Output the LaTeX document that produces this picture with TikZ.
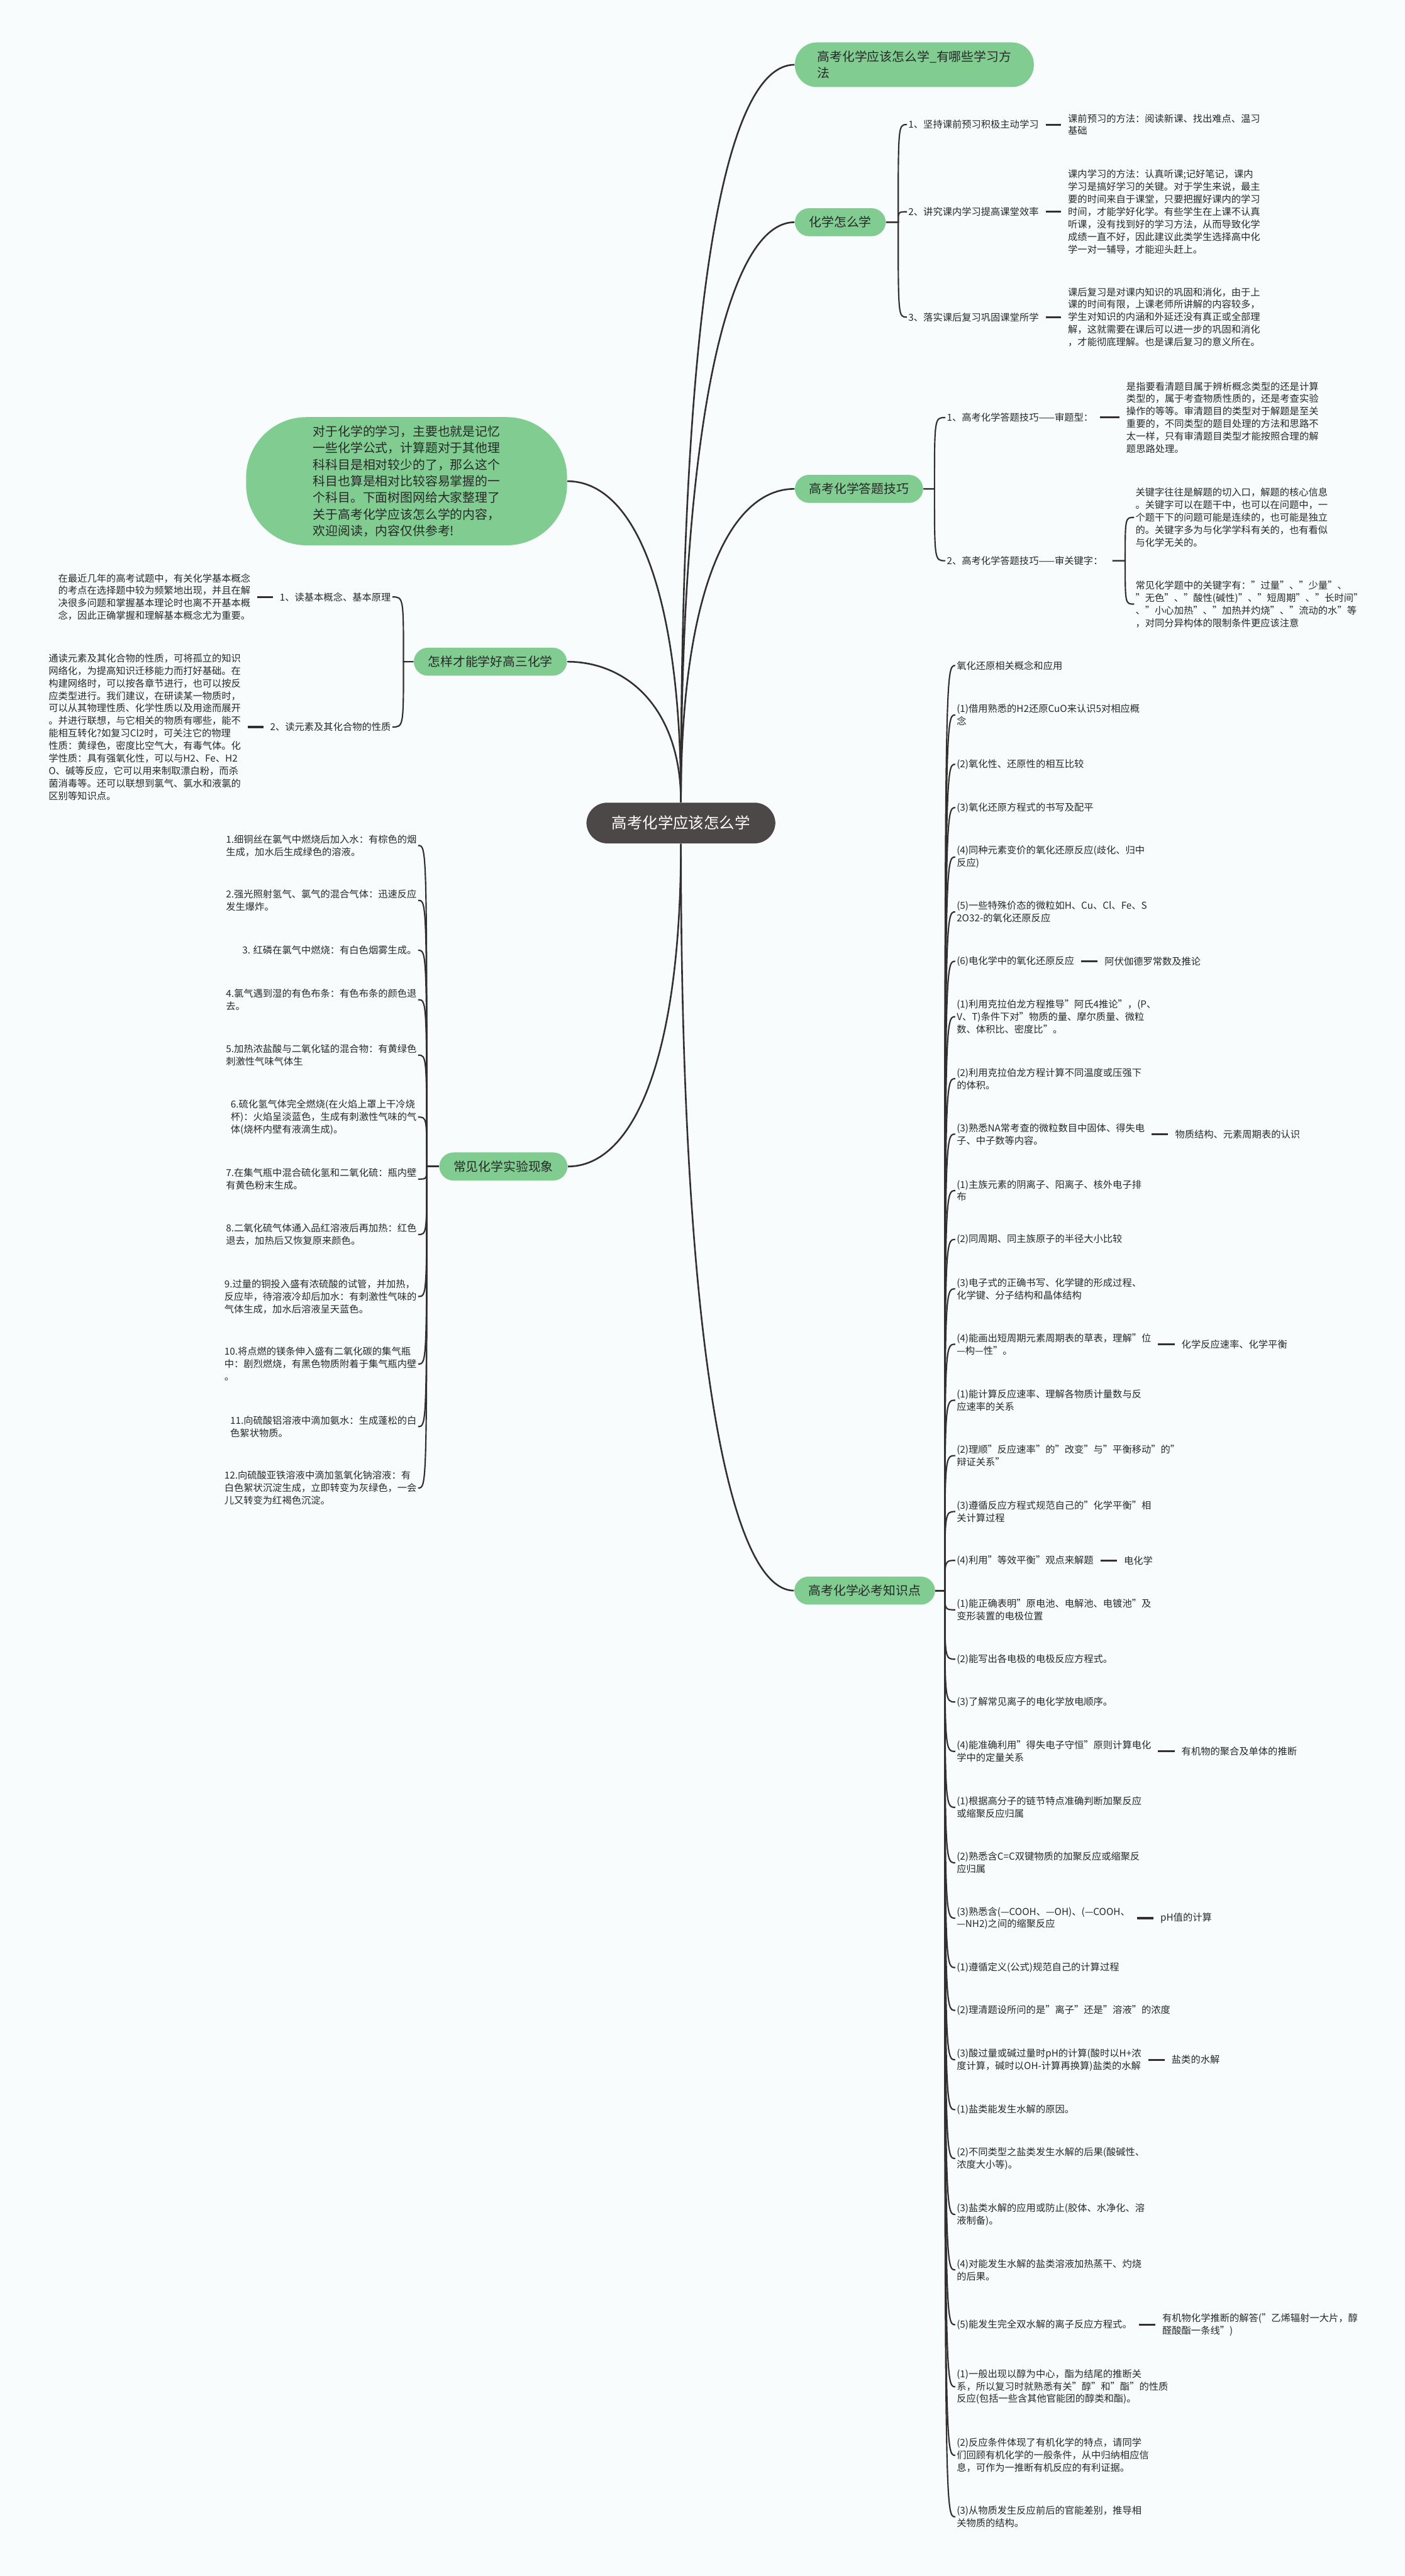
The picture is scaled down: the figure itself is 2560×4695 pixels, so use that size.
\documentclass[tikz,border=0pt]{standalone}
\usepackage{fontspec}
\setmainfont{Noto Sans CJK SC}
\usetikzlibrary{positioning}
\definecolor{bgcol}{RGB}{248,252,253}
\definecolor{topicgreen}{RGB}{128,204,145}
\definecolor{rootgray}{RGB}{77,72,72}
\definecolor{linkcol}{RGB}{51,47,47}
\definecolor{textcol}{RGB}{40,40,40}
\begin{document}
\begin{tikzpicture}[x=0.01cm, y=-0.01cm, node distance=0.48cm]
    \tikzset{
        root/.style={fill=rootgray, text=white, rounded corners=0.38cm, inner xsep=0.46cm, inner ysep=0.24cm, font=\fontsize{7.97pt}{10pt}\selectfont},
        topic/.style={fill=topicgreen, text=textcol, rounded corners=0.26cm, inner xsep=0.26cm, inner ysep=0.15cm, align=left, font=\fontsize{6.46pt}{8.62pt}\selectfont},
        item/.style={text=textcol, inner sep=0.02cm, align=left, font=\fontsize{4.98pt}{6.49pt}\selectfont},
        link/.style={draw=linkcol, line width=0.7pt},
        rootlink/.style={draw=linkcol, line width=0.85pt},
        joinline/.style={draw=linkcol, line width=1pt, shorten <=0.1cm, shorten >=0.1cm}
    }
    \fill[bgcol] (0,0) rectangle (2560,4695);
    \useasboundingbox (0,0) rectangle (2560,4695);

    \node[root] (root) at (1241,1500) {高考化学应该怎么学};

    \node[topic, anchor=west, inner xsep=0.41cm, rounded corners=0.4cm] (way) at (1448,118) {高考化学应该怎么学\_有哪些学习方\\法};
    \node[topic, anchor=west] (how) at (1448,405) {化学怎么学};
    \node[topic, anchor=west] (tips) at (1448,891) {高考化学答题技巧};
    \node[topic, rounded corners=1.1cm, inner xsep=1.22cm] (intro) at (741,877) {对于化学的学习，主要也就是记忆\\一些化学公式，计算题对于其他理\\科科目是相对较少的了，那么这个\\科目也算是相对比较容易掌握的一\\个科目。下面树图网给大家整理了\\关于高考化学应该怎么学的内容，\\欢迎阅读，内容仅供参考!};
    \node[topic, anchor=east] (good) at (1034,1206) {怎样才能学好高三化学};
    \node[topic, anchor=east] (lab) at (1035,2126) {常见化学实验现象};
    \node[topic, anchor=west] (must) at (1447,2899) {高考化学必考知识点};

    \draw[rootlink] (root.north) .. controls +(0,-960) and +(-120,0) .. (way.west);
    \draw[rootlink] (root.north) .. controls +(0,-700) and +(-120,0) .. (how.west);
    \draw[rootlink] (root.north) .. controls +(0,-380) and +(-120,0) .. (tips.west);
    \draw[rootlink] (root.north) .. controls +(0,-390) and +(120,0) .. (intro.east);
    \draw[rootlink] (root.north) .. controls +(0,-170) and +(110,0) .. (good.east);
    \draw[rootlink] (root.south) .. controls +(0,390) and +(120,0) .. (lab.east);
    \draw[rootlink] (root.south) .. controls +(0,900) and +(-120,0) .. (must.west);

    % 化学怎么学
    \node[item, anchor=west] (how1) at (1653,227) {1、坚持课前预习积极主动学习};
    \node[item, anchor=west] (how2) at (1653,386) {2、讲究课内学习提高课堂效率};
    \node[item, anchor=west] (how3) at (1653,578) {3、落实课后复习巩固课堂所学};
    \node[item, right=of how1] (howd1) {课前预习的方法：阅读新课、找出难点、温习\\基础};
    \node[item, right=of how2] (howd2) {课内学习的方法：认真听课;记好笔记，课内\\学习是搞好学习的关键。对于学生来说，最主\\要的时间来自于课堂，只要把握好课内的学习\\时间，才能学好化学。有些学生在上课不认真\\听课，没有找到好的学习方法，从而导致化学\\成绩一直不好，因此建议此类学生选择高中化\\学一对一辅导，才能迎头赶上。};
    \node[item, right=of how3] (howd3) {课后复习是对课内知识的巩固和消化，由于上\\课的时间有限，上课老师所讲解的内容较多，\\学生对知识的内涵和外延还没有真正或全部理\\解，这就需要在课后可以进一步的巩固和消化\\，才能彻底理解。也是课后复习的意义所在。};
    \coordinate (howS) at ([xshift=0.22cm]how.east);
    \draw[link] (how.east) -- (howS) .. controls (howS |- how1.west) .. (how1.west);
    \draw[link] (how.east) -- (howS) .. controls (howS |- how2.west) .. (how2.west);
    \draw[link] (how.east) -- (howS) .. controls (howS |- how3.west) .. (how3.west);
    \draw[joinline] (how1) -- (howd1);
    \draw[joinline] (how2) -- (howd2);
    \draw[joinline] (how3) -- (howd3);

    % 高考化学答题技巧
    \node[item, anchor=west] (tips1) at (1723,761) {1、高考化学答题技巧——审题型：};
    \node[item, anchor=west] (tips2) at (1723,1022) {2、高考化学答题技巧——审关键字：};
    \node[item, right=0.55cm of tips1] (tipsd1) {是指要看清题目属于辨析概念类型的还是计算\\类型的，属于考查物质性质的，还是考查实验\\操作的等等。审清题目的类型对于解题是至关\\重要的，不同类型的题目处理的方法和思路不\\太一样，只有审清题目类型才能按照合理的解\\题思路处理。};
    \node[item, anchor=west] (key1) at (2067,943) {关键字往往是解题的切入口，解题的核心信息\\。关键字可以在题干中，也可以在问题中，一\\个题干下的问题可能是连续的，也可能是独立\\的。关键字多为与化学学科有关的，也有看似\\与化学无关的。};
    \node[item, anchor=west] (key2) at (2067,1101) {常见化学题中的关键字有："过量"、"少量"、\\"无色"、"酸性(碱性)"、"短周期"、"长时间"\\、"小心加热"、"加热并灼烧"、"流动的水"等\\，对同分异构体的限制条件更应该注意};
    \coordinate (tipsS) at ([xshift=0.2cm]tips.east);
    \draw[link] (tips.east) -- (tipsS) .. controls (tipsS |- tips1.west) .. (tips1.west);
    \draw[link] (tips.east) -- (tipsS) .. controls (tipsS |- tips2.west) .. (tips2.west);
    \draw[joinline] (tips1) -- (tipsd1);
    \coordinate (keyS) at ([xshift=0.38cm]tips2.east);
    \draw[link, shorten <=0.15cm] (tips2.east) -- (keyS) .. controls (keyS |- key1.west) .. (key1.west);
    \draw[link, shorten <=0.15cm] (tips2.east) -- (keyS) .. controls (keyS |- key2.west) .. (key2.west);

    % 怎样才能学好高三化学
    \node[item, anchor=east] (good1) at (715,1088) {1、读基本概念、基本原理};
    \node[item, anchor=east] (good2) at (715,1325) {2、读元素及其化合物的性质};
    \node[item, left=of good1] (goodd1) {在最近几年的高考试题中，有关化学基本概念\\的考点在选择题中较为频繁地出现，并且在解\\决很多问题和掌握基本理论时也离不开基本概\\念，因此正确掌握和理解基本概念尤为重要。};
    \node[item, left=of good2] (goodd2) {通读元素及其化合物的性质，可将孤立的知识\\网络化，为提高知识迁移能力而打好基础。在\\构建网络时，可以按各章节进行，也可以按反\\应类型进行。我们建议，在研读某一物质时，\\可以从其物理性质、化学性质以及用途而展开\\。并进行联想，与它相关的物质有哪些，能不\\能相互转化?如复习Cl2时，可关注它的物理\\性质：黄绿色，密度比空气大，有毒气体。化\\学性质：具有强氧化性，可以与H2、Fe、H2\\O、碱等反应，它可以用来制取漂白粉，而杀\\菌消毒等。还可以联想到氯气、氯水和液氯的\\区别等知识点。};
    \coordinate (goodS) at ([xshift=-0.18cm]good.west);
    \draw[link] (good.west) -- (goodS) .. controls (goodS |- good1.east) .. (good1.east);
    \draw[link] (good.west) -- (goodS) .. controls (goodS |- good2.east) .. (good2.east);
    \draw[joinline] (good1) -- (goodd1);
    \draw[joinline] (good2) -- (goodd2);

    % 常见化学实验现象
    \node[item, anchor=east] (lab1) at (762,1541) {1.细铜丝在氯气中燃烧后加入水：有棕色的烟\\生成，加水后生成绿色的溶液。};
    \node[item, anchor=east] (lab2) at (762,1641) {2.强光照射氢气、氯气的混合气体：迅速反应\\发生爆炸。};
    \node[item, anchor=east] (lab3) at (762,1732) {3. 红磷在氯气中燃烧：有白色烟雾生成。};
    \node[item, anchor=east] (lab4) at (762,1822) {4.氯气遇到湿的有色布条：有色布条的颜色退\\去。};
    \node[item, anchor=east] (lab5) at (762,1923) {5.加热浓盐酸与二氧化锰的混合物：有黄绿色\\刺激性气味气体生};
    \node[item, anchor=east] (lab6) at (762,2036) {6.硫化氢气体完全燃烧(在火焰上罩上干冷烧\\杯)：火焰呈淡蓝色，生成有刺激性气味的气\\体(烧杯内壁有液滴生成)。};
    \node[item, anchor=east] (lab7) at (762,2149) {7.在集气瓶中混合硫化氢和二氧化硫：瓶内壁\\有黄色粉末生成。};
    \node[item, anchor=east] (lab8) at (762,2250) {8.二氧化硫气体通入品红溶液后再加热：红色\\退去，加热后又恢复原来颜色。};
    \node[item, anchor=east] (lab9) at (762,2363) {9.过量的铜投入盛有浓硫酸的试管，并加热，\\反应毕，待溶液冷却后加水：有刺激性气味的\\气体生成，加水后溶液呈天蓝色。};
    \node[item, anchor=east] (lab10) at (762,2486) {10.将点燃的镁条伸入盛有二氧化碳的集气瓶\\中：剧烈燃烧，有黑色物质附着于集气瓶内壁\\。};
    \node[item, anchor=east] (lab11) at (762,2600) {11.向硫酸铝溶液中滴加氨水：生成蓬松的白\\色絮状物质。};
    \node[item, anchor=east] (lab12) at (762,2712) {12.向硫酸亚铁溶液中滴加氢氧化钠溶液：有\\白色絮状沉淀生成，立即转变为灰绿色，一会\\儿又转变为红褐色沉淀。};
    \coordinate (labS) at ([xshift=-0.22cm]lab.west);
    \draw[link] (lab.west) -- (labS) .. controls (labS |- lab1.east) .. (lab1.east);
    \draw[link] (lab.west) -- (labS) .. controls (labS |- lab2.east) .. (lab2.east);
    \draw[link] (lab.west) -- (labS) .. controls (labS |- lab3.east) .. (lab3.east);
    \draw[link] (lab.west) -- (labS) .. controls (labS |- lab4.east) .. (lab4.east);
    \draw[link] (lab.west) -- (labS) .. controls (labS |- lab5.east) .. (lab5.east);
    \draw[link] (lab.west) -- (labS) .. controls (labS |- lab6.east) .. (lab6.east);
    \draw[link] (lab.west) -- (labS) .. controls (labS |- lab7.east) .. (lab7.east);
    \draw[link] (lab.west) -- (labS) .. controls (labS |- lab8.east) .. (lab8.east);
    \draw[link] (lab.west) -- (labS) .. controls (labS |- lab9.east) .. (lab9.east);
    \draw[link] (lab.west) -- (labS) .. controls (labS |- lab10.east) .. (lab10.east);
    \draw[link] (lab.west) -- (labS) .. controls (labS |- lab11.east) .. (lab11.east);
    \draw[link] (lab.west) -- (labS) .. controls (labS |- lab12.east) .. (lab12.east);

    % 高考化学必考知识点
    \node[item, anchor=west] (must0) at (1741,1213) {氧化还原相关概念和应用};
    \node[item, anchor=west] (must1) at (1741,1303) {(1)借用熟悉的H2还原CuO来认识5对相应概\\念};
    \node[item, anchor=west] (must2) at (1741,1393) {(2)氧化性、还原性的相互比较};
    \node[item, anchor=west] (must3) at (1741,1472) {(3)氧化还原方程式的书写及配平};
    \node[item, anchor=west] (must4) at (1741,1562) {(4)同种元素变价的氧化还原反应(歧化、归中\\反应)};
    \node[item, anchor=west] (must5) at (1741,1662) {(5)一些特殊价态的微粒如H、Cu、Cl、Fe、S\\2O32-的氧化还原反应};
    \node[item, anchor=west] (must6) at (1741,1752) {(6)电化学中的氧化还原反应};
    \node[item, anchor=west] (must7) at (1741,1853) {(1)利用克拉伯龙方程推导"阿氏4推论"，(P、\\V、T)条件下对"物质的量、摩尔质量、微粒\\数、体积比、密度比"。};
    \node[item, anchor=west] (must8) at (1741,1966) {(2)利用克拉伯龙方程计算不同温度或压强下\\的体积。};
    \node[item, anchor=west] (must9) at (1741,2067) {(3)熟悉NA常考查的微粒数目中固体、得失电\\子、中子数等内容。};
    \node[item, anchor=west] (must10) at (1741,2170) {(1)主族元素的阴离子、阳离子、核外电子排\\布};
    \node[item, anchor=west] (must11) at (1741,2259) {(2)同周期、同主族原子的半径大小比较};
    \node[item, anchor=west] (must12) at (1741,2349) {(3)电子式的正确书写、化学键的形成过程、\\化学键、分子结构和晶体结构};
    \node[item, anchor=west] (must13) at (1741,2450) {(4)能画出短周期元素周期表的草表，理解"位\\—构—性"。};
    \node[item, anchor=west] (must14) at (1741,2552) {(1)能计算反应速率、理解各物质计量数与反\\应速率的关系};
    \node[item, anchor=west] (must15) at (1741,2653) {(2)理顺"反应速率"的"改变"与"平衡移动"的"\\辩证关系"};
    \node[item, anchor=west] (must16) at (1741,2755) {(3)遵循反应方程式规范自己的"化学平衡"相\\关计算过程};
    \node[item, anchor=west] (must17) at (1741,2844) {(4)利用"等效平衡"观点来解题};
    \node[item, anchor=west] (must18) at (1741,2934) {(1)能正确表明"原电池、电解池、电镀池"及\\变形装置的电极位置};
    \node[item, anchor=west] (must19) at (1741,3024) {(2)能写出各电极的电极反应方程式。};
    \node[item, anchor=west] (must20) at (1741,3102) {(3)了解常见离子的电化学放电顺序。};
    \node[item, anchor=west] (must21) at (1741,3192) {(4)能准确利用"得失电子守恒"原则计算电化\\学中的定量关系};
    \node[item, anchor=west] (must22) at (1741,3294) {(1)根据高分子的链节特点准确判断加聚反应\\或缩聚反应归属};
    \node[item, anchor=west] (must23) at (1741,3395) {(2)熟悉含C=C双键物质的加聚反应或缩聚反\\应归属};
    \node[item, anchor=west] (must24) at (1741,3496) {(3)熟悉含(—COOH、—OH)、(—COOH、\\—NH2)之间的缩聚反应};
    \node[item, anchor=west] (must25) at (1741,3586) {(1)遵循定义(公式)规范自己的计算过程};
    \node[item, anchor=west] (must26) at (1741,3664) {(2)理清题设所问的是"离子"还是"溶液"的浓度};
    \node[item, anchor=west] (must27) at (1741,3754) {(3)酸过量或碱过量时pH的计算(酸时以H+浓\\度计算，碱时以OH-计算再换算)盐类的水解};
    \node[item, anchor=west] (must28) at (1741,3845) {(1)盐类能发生水解的原因。};
    \node[item, anchor=west] (must29) at (1741,3934) {(2)不同类型之盐类发生水解的后果(酸碱性、\\浓度大小等)。};
    \node[item, anchor=west] (must30) at (1741,4036) {(3)盐类水解的应用或防止(胶体、水净化、溶\\液制备)。};
    \node[item, anchor=west] (must31) at (1741,4137) {(4)对能发生水解的盐类溶液加热蒸干、灼烧\\的后果。};
    \node[item, anchor=west] (must32) at (1741,4237) {(5)能发生完全双水解的离子反应方程式。};
    \node[item, anchor=west] (must33) at (1741,4350) {(1)一般出现以醇为中心，酯为结尾的推断关\\系，所以复习时就熟悉有关"醇"和"酯"的性质\\反应(包括一些含其他官能团的醇类和酯)。};
    \node[item, anchor=west] (must34) at (1741,4475) {(2)反应条件体现了有机化学的特点，请同学\\们回顾有机化学的一般条件，从中归纳相应信\\息，可作为一推断有机反应的有利证据。};
    \node[item, anchor=west] (must35) at (1741,4587) {(3)从物质发生反应前后的官能差别，推导相\\关物质的结构。};

    \node[item, right=0.5cm of must6] (mustd6) {阿伏伽德罗常数及推论};
    \node[item, right=0.5cm of must9] (mustd9) {物质结构、元素周期表的认识};
    \node[item, right=0.5cm of must13] (mustd13) {化学反应速率、化学平衡};
    \node[item, right=0.5cm of must17] (mustd17) {电化学};
    \node[item, right=0.5cm of must21] (mustd21) {有机物的聚合及单体的推断};
    \node[item, right=0.5cm of must24] (mustd24) {pH值的计算};
    \node[item, right=0.5cm of must27] (mustd27) {盐类的水解};
    \node[item, right=0.5cm of must32] (mustd32) {有机物化学推断的解答("乙烯辐射一大片，醇\\醛酸酯一条线")};

    \coordinate (mustS) at ([xshift=0.17cm]must.east);
    \draw[link] (must.east) -- (mustS) .. controls (mustS |- must0.west) .. (must0.west);
    \draw[link] (must.east) -- (mustS) .. controls (mustS |- must1.west) .. (must1.west);
    \draw[link] (must.east) -- (mustS) .. controls (mustS |- must2.west) .. (must2.west);
    \draw[link] (must.east) -- (mustS) .. controls (mustS |- must3.west) .. (must3.west);
    \draw[link] (must.east) -- (mustS) .. controls (mustS |- must4.west) .. (must4.west);
    \draw[link] (must.east) -- (mustS) .. controls (mustS |- must5.west) .. (must5.west);
    \draw[link] (must.east) -- (mustS) .. controls (mustS |- must6.west) .. (must6.west);
    \draw[link] (must.east) -- (mustS) .. controls (mustS |- must7.west) .. (must7.west);
    \draw[link] (must.east) -- (mustS) .. controls (mustS |- must8.west) .. (must8.west);
    \draw[link] (must.east) -- (mustS) .. controls (mustS |- must9.west) .. (must9.west);
    \draw[link] (must.east) -- (mustS) .. controls (mustS |- must10.west) .. (must10.west);
    \draw[link] (must.east) -- (mustS) .. controls (mustS |- must11.west) .. (must11.west);
    \draw[link] (must.east) -- (mustS) .. controls (mustS |- must12.west) .. (must12.west);
    \draw[link] (must.east) -- (mustS) .. controls (mustS |- must13.west) .. (must13.west);
    \draw[link] (must.east) -- (mustS) .. controls (mustS |- must14.west) .. (must14.west);
    \draw[link] (must.east) -- (mustS) .. controls (mustS |- must15.west) .. (must15.west);
    \draw[link] (must.east) -- (mustS) .. controls (mustS |- must16.west) .. (must16.west);
    \draw[link] (must.east) -- (mustS) .. controls (mustS |- must17.west) .. (must17.west);
    \draw[link] (must.east) -- (mustS) .. controls (mustS |- must18.west) .. (must18.west);
    \draw[link] (must.east) -- (mustS) .. controls (mustS |- must19.west) .. (must19.west);
    \draw[link] (must.east) -- (mustS) .. controls (mustS |- must20.west) .. (must20.west);
    \draw[link] (must.east) -- (mustS) .. controls (mustS |- must21.west) .. (must21.west);
    \draw[link] (must.east) -- (mustS) .. controls (mustS |- must22.west) .. (must22.west);
    \draw[link] (must.east) -- (mustS) .. controls (mustS |- must23.west) .. (must23.west);
    \draw[link] (must.east) -- (mustS) .. controls (mustS |- must24.west) .. (must24.west);
    \draw[link] (must.east) -- (mustS) .. controls (mustS |- must25.west) .. (must25.west);
    \draw[link] (must.east) -- (mustS) .. controls (mustS |- must26.west) .. (must26.west);
    \draw[link] (must.east) -- (mustS) .. controls (mustS |- must27.west) .. (must27.west);
    \draw[link] (must.east) -- (mustS) .. controls (mustS |- must28.west) .. (must28.west);
    \draw[link] (must.east) -- (mustS) .. controls (mustS |- must29.west) .. (must29.west);
    \draw[link] (must.east) -- (mustS) .. controls (mustS |- must30.west) .. (must30.west);
    \draw[link] (must.east) -- (mustS) .. controls (mustS |- must31.west) .. (must31.west);
    \draw[link] (must.east) -- (mustS) .. controls (mustS |- must32.west) .. (must32.west);
    \draw[link] (must.east) -- (mustS) .. controls (mustS |- must33.west) .. (must33.west);
    \draw[link] (must.east) -- (mustS) .. controls (mustS |- must34.west) .. (must34.west);
    \draw[link] (must.east) -- (mustS) .. controls (mustS |- must35.west) .. (must35.west);
    \draw[joinline] (must6) -- (mustd6);
    \draw[joinline] (must9) -- (mustd9);
    \draw[joinline] (must13) -- (mustd13);
    \draw[joinline] (must17) -- (mustd17);
    \draw[joinline] (must21) -- (mustd21);
    \draw[joinline] (must24) -- (mustd24);
    \draw[joinline] (must27) -- (mustd27);
    \draw[joinline] (must32) -- (mustd32);
\end{tikzpicture}
\end{document}
